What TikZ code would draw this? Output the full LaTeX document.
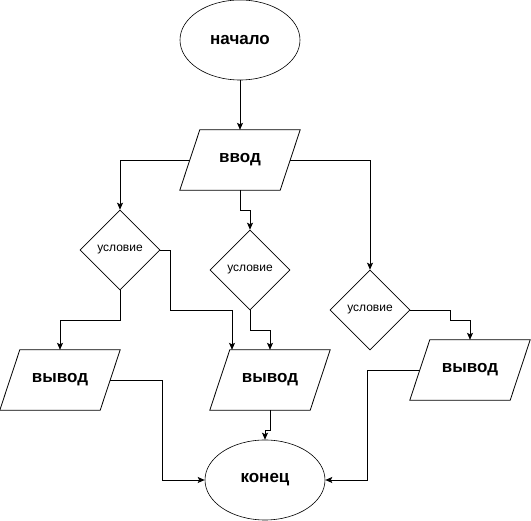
\documentclass[tikz,border=0pt]{standalone}
\usepackage{fontspec}
\setmainfont{Liberation Sans}
\usetikzlibrary{shapes.geometric,arrows.meta}
\begin{document}
\begin{tikzpicture}[x=1pt,y=-1pt,
  every node/.style={inner sep=0pt},
  term/.style={ellipse,draw,line width=0.6pt,minimum width=120pt,minimum height=80pt,font=\fontsize{17}{20}\selectfont\bfseries},
  cond/.style={diamond,draw,line width=0.6pt,minimum width=80pt,minimum height=80pt,aspect=1,font=\fontsize{12}{14}\selectfont},
  iobox/.style={rectangle,minimum width=100pt,minimum height=60pt,font=\fontsize{17}{20}\selectfont\bfseries},
  arr/.style={line width=0.8pt,-{Stealth[length=7pt,width=6pt,inset=1.5pt]}},
  pline/.style={line width=0.8pt}
]
\useasboundingbox (0,0) rectangle (531,521);
\newcommand{\parabox}[1]{\draw[line width=0.8pt] ([xshift=10pt]#1.north west) -- ([xshift=10pt]#1.north east) -- ([xshift=-10pt]#1.south east) -- ([xshift=-10pt]#1.south west) -- cycle;}

\node[term] (start) at (240,40) {начало};
\node[iobox] (in) at (240,160) {ввод};
\parabox{in}
\node[cond] (d1) at (120,250) {условие};
\node[cond] (d2) at (250,270) {условие};
\node[cond] (d3) at (370,310) {условие};
\node[iobox] (o1) at (60,380) {вывод};
\parabox{o1}
\node[iobox] (o2) at (270,380) {вывод};
\parabox{o2}
\node[iobox] (o3) at (470,370) {вывод};
\parabox{o3}
\node[term] (end) at (265,480) {конец};

\draw[arr] (start.south) -- (in.north);
\draw[arr] (in.west) -| (d1.north);
\draw[arr] (in.south) -- ++(0,20) -| (d2.north);
\draw[arr] (in.east) -| (d3.north);
\draw[arr] (d1.south) -- ++(0,30) -| (o1.north);
\draw[arr] (d1.east) -- ++(10,0) -- ++(0,60) -| ([xshift=-38pt]o2.north);
\draw[arr] (d2.south) -- ++(0,20) -| (o2.north);
\draw[arr] (d3.east) -- ++(40,0) -- ++(0,10) -| (o3.north);
\draw[arr] (o1.east) -- ++(52,0) |- (end.west);
\draw[arr] (o2.south) -- ++(0,20) -| (end.north);
\draw[arr] (o3.west) -- ++(-52.5,0) |- (end.east);
\end{tikzpicture}
\end{document}
